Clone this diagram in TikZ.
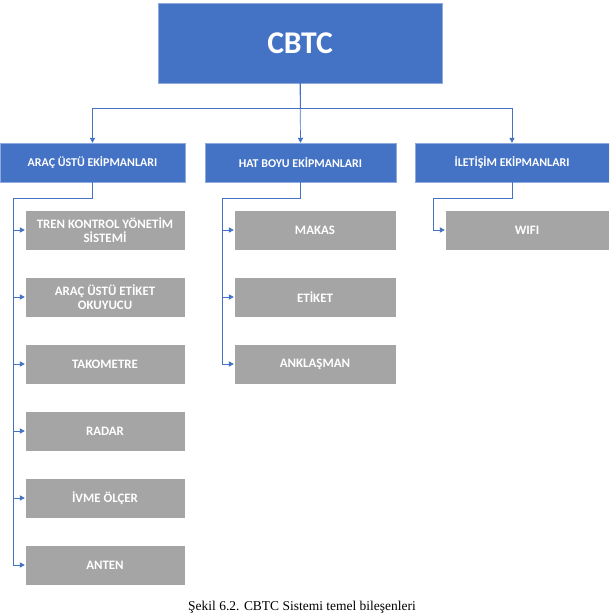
\documentclass[tikz,border=0pt]{standalone}
\usepackage{fontspec}
\setmainfont{Liberation Serif}
\newfontfamily\boxfont{Carlito}
\usetikzlibrary{arrows.meta, positioning}
\definecolor{office}{RGB}{68,114,196}
\definecolor{slate}{RGB}{165,165,165}

\begin{document}
\begin{tikzpicture}[
  x=0.03cm, y=-0.03cm,
  head/.style={draw=office!60, fill=office, text=white, font=\boxfont\bfseries\fontsize{10.2}{12}\selectfont,
               minimum height=1.17cm, align=center, inner sep=0pt},
  part/.style={draw=white, fill=slate, text=white, font=\boxfont\bfseries\fontsize{11}{12.5}\selectfont,
               minimum height=1.2cm, align=center, inner sep=0pt},
  link/.style={-{Triangle[length=1.5mm, width=1.6mm]}, office, line width=0.6pt},
]
  \clip (0,0) rectangle (609,615);
  \fill[white] (0,0) rectangle (609,615);

  % top
  \node[head, minimum width=8.52cm, minimum height=2.4cm, font=\boxfont\bfseries\fontsize{27}{30}\selectfont]
    (cbtc) at (300,43) {CBTC};

  % groups
  \node[head, minimum width=5.55cm] (arac) at (92.5,162.5) {ARAÇ ÜSTÜ EKİPMANLARI};
  \node[head, minimum width=5.73cm] (hat) at (300.5,162.5) {HAT BOYU EKİPMANLARI};
  \node[head, minimum width=5.82cm] (ilet) at (512,162.5) {İLETİŞİM EKİPMANLARI};

  \draw[link] (cbtc.south) -- ++(0,25) -| (arac.north);
  \draw[link] (cbtc.south) -- ++(0,25) -| (ilet.north);
  \draw[link] (cbtc.south) -- (hat.north);

  % arac ustu
  \node[part, minimum width=4.8cm] (tks) at (105,230) {TREN KONTROL YÖNETİM\\SİSTEMİ};
  \node[part, minimum width=4.8cm] (okuyucu) at (105,297) {ARAÇ ÜSTÜ ETİKET\\OKUYUCU};
  \node[part, minimum width=4.8cm] (tako) at (105,364) {TAKOMETRE};
  \node[part, minimum width=4.8cm] (radar) at (105,431) {RADAR};
  \node[part, minimum width=4.8cm] (ivme) at (105,498) {İVME ÖLÇER};
  \node[part, minimum width=4.8cm] (anten) at (105,565) {ANTEN};

  \coordinate (atrunk) at (13,198);
  \draw[office, line width=0.6pt] (arac.south) |- (atrunk);
  \foreach \n in {tks,okuyucu,tako,radar,ivme,anten}
    \draw[link] (atrunk) |- (\n.west);

  % hat boyu
  \node[part, minimum width=4.86cm] (makas) at (315,230) {MAKAS};
  \node[part, minimum width=4.86cm] (etiket) at (315,297) {ETİKET};
  \node[part, minimum width=4.86cm] (ankl) at (315,364) {ANKLAŞMAN};

  \coordinate (htrunk) at (222,198);
  \draw[office, line width=0.6pt] (hat.south) |- (htrunk);
  \foreach \n in {makas,etiket,ankl}
    \draw[link] (htrunk) |- (\n.west);

  % iletisim
  \node[part, minimum width=4.92cm] (wifi) at (527,230) {WIFI};

  \coordinate (itrunk) at (433,198);
  \draw[office, line width=0.6pt] (ilet.south) |- (itrunk);
  \draw[link] (itrunk) |- (wifi.west);

  % caption
  \node[anchor=base, font=\fontsize{11.5}{14}\selectfont] (caption) at (302,610)
    {Şekil 6.2. CBTC Sistemi temel bileşenleri};
\end{tikzpicture}
\end{document}
